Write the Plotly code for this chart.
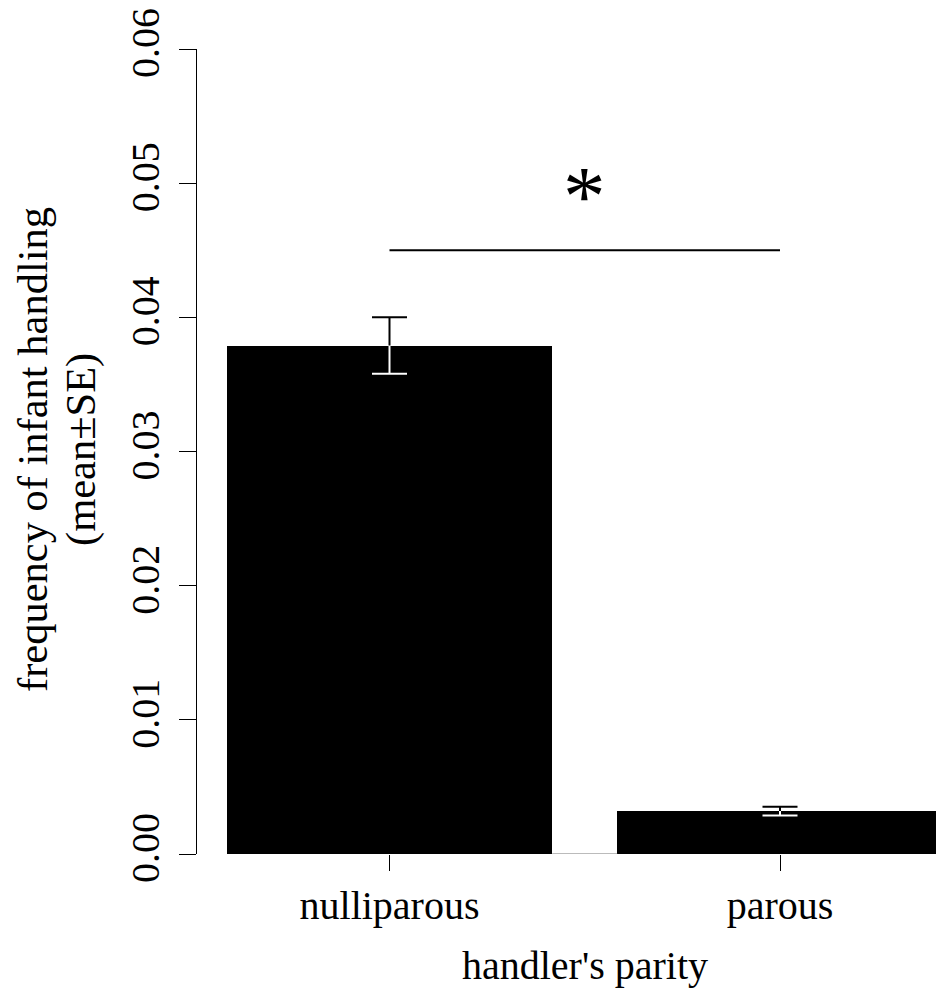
import plotly.graph_objects as go

categories = ["nulliparous", "parous"]
means = [0.0379, 0.0032]
se = [0.0021, 0.00033]
bar_pos = [0.7, 1.9]
bar_width = 1.0
ytick_vals = [0.00, 0.01, 0.02, 0.03, 0.04, 0.05, 0.06]
ytick_text = ["0.00", "0.01", "0.02", "0.03", "0.04", "0.05", "0.06"]
sig_y = 0.045
sig_label = "*"

FONT = "Liberation Serif"
W, H = 936, 991
L, R, T, B = 197, 0, 49, 137
pw, ph = W - L - R, H - T - B

scale = (780 - 389.5) / (bar_pos[1] - bar_pos[0])
x0px = 389.5 - bar_pos[0] * scale
xmin = (L - x0px) / scale
xmax = (W - R - x0px) / scale
cap = 17.5 / scale

fig = go.Figure()
fig.add_trace(go.Bar(x=bar_pos, y=means, width=bar_width,
                     marker=dict(color="black", line=dict(width=0)),
                     showlegend=False, hoverinfo="skip"))

# baseline segment between the bars
gap_x = [bar_pos[0] + bar_width / 2, bar_pos[1] - bar_width / 2]
fig.add_trace(go.Scatter(x=gap_x, y=[0, 0], mode="lines",
                         line=dict(color="#777777", width=1),
                         showlegend=False, hoverinfo="skip"))

# error bars: lower half white (inside bar), upper half black
lx, ly, ux, uy = [], [], [], []
for xc, m, s in zip(bar_pos, means, se):
    lx += [xc, xc, None, xc - cap, xc + cap, None]
    ly += [m, m - s, None, m - s, m - s, None]
    ux += [xc, xc, None, xc - cap, xc + cap, None]
    uy += [m, m + s, None, m + s, m + s, None]
fig.add_trace(go.Scatter(x=lx, y=ly, mode="lines",
                         line=dict(color="white", width=2),
                         showlegend=False, hoverinfo="skip"))
fig.add_trace(go.Scatter(x=ux, y=uy, mode="lines",
                         line=dict(color="black", width=2),
                         showlegend=False, hoverinfo="skip"))

# significance line
fig.add_trace(go.Scatter(x=bar_pos, y=[sig_y, sig_y], mode="lines",
                         line=dict(color="black", width=2),
                         showlegend=False, hoverinfo="skip"))
fig.add_annotation(x=sum(bar_pos) / 2, y=0.0494, xref="x", yref="y",
                   text=sig_label, showarrow=False,
                   font=dict(family=FONT, size=85, color="black"),
                   yanchor="middle", xanchor="center", yshift=-5)


def px_x(p):
    return (p - L) / pw


def px_y(p):
    return (H - B - p) / ph


fig.add_annotation(x=px_x(33), y=px_y(450), xref="paper", yref="paper",
                   text="frequency of infant handling", textangle=-90,
                   showarrow=False, xanchor="center", yanchor="middle",
                   font=dict(family=FONT, size=42.5, color="black"))
fig.add_annotation(x=px_x(81), y=px_y(450), xref="paper", yref="paper",
                   text="(mean±SE)", textangle=-90,
                   showarrow=False, xanchor="center", yanchor="middle",
                   font=dict(family=FONT, size=42.5, color="black"))
fig.add_annotation(x=sum(bar_pos) / 2, y=px_y(965), xref="x", yref="paper",
                   text="handler's parity", showarrow=False,
                   xanchor="center", yanchor="middle",
                   font=dict(family=FONT, size=40, color="black"))

fig.update_layout(
    width=W, height=H,
    margin=dict(l=L, r=R, t=T, b=B, pad=0),
    paper_bgcolor="white", plot_bgcolor="white",
    font=dict(family=FONT, size=40, color="black"),
    bargap=0,
    xaxis=dict(range=[xmin, xmax], tickvals=bar_pos, ticktext=categories,
               ticks="outside", ticklen=16, tickwidth=1, tickcolor="black",
               showline=False, showgrid=False, zeroline=False,
               tickfont=dict(family=FONT, size=40, color="black")),
    yaxis=dict(range=[0, 0.06], tickvals=ytick_vals, ticktext=ytick_text,
               ticks="outside", ticklen=17, tickwidth=1, tickcolor="black",
               showline=True, linecolor="black", linewidth=1,
               showgrid=False, zeroline=False, tickangle=-90,
               ticklabelstandoff=4,
               tickfont=dict(family=FONT, size=40, color="black")),
)

fig.write_html("out.html",
               config={"displayModeBar": False},
               post_script="document.body.style.margin='0';"
                           "document.body.style.overflow='hidden';")
